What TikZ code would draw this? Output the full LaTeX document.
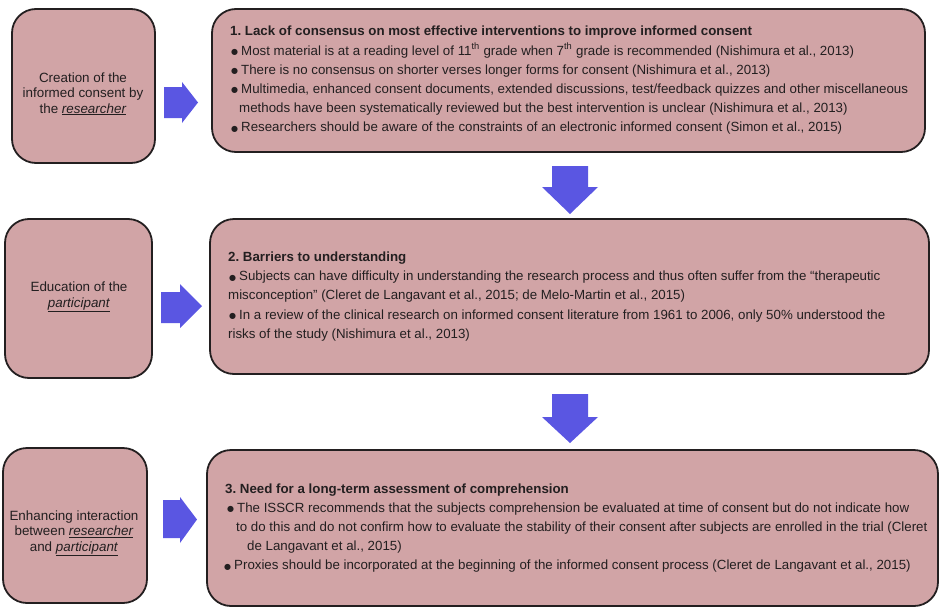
\documentclass[tikz,border=0pt]{standalone}
\usepackage{fontspec}
\setmainfont{Liberation Sans}
\newfontfamily\dejavu{DejaVu Sans}
\definecolor{boxfill}{RGB}{209,164,166}
\definecolor{boxline}{RGB}{35,31,32}
\definecolor{arrowblue}{RGB}{90,86,226}
\definecolor{txt}{RGB}{35,31,32}
\newcommand{\itemdot}{\makebox[11pt][l]{\hspace{1pt}{\dejavu\fontsize{8}{8}\selectfont\raisebox{0.6pt}{●}}}}
\newcommand{\ul}[1]{\underline{\textit{#1}}}
\frenchspacing
\begin{document}
\frenchspacing
\begin{tikzpicture}[x=1pt,y=-1pt,
  panel/.style={draw=boxline, line width=1.8pt, fill=boxfill, rounded corners=24pt, inner sep=0pt},
  body/.style={anchor=west, align=left, inner sep=0pt, text=txt, font=\fontsize{13.3}{19.2}\selectfont\frenchspacing},
  side/.style={align=center, inner sep=0pt, text=txt, font=\fontsize{13.4}{15.3}\selectfont},
  blockarrow/.style={fill=arrowblue, draw=none}
]
\useasboundingbox (0,0) rectangle (951,616);

% side boxes
\node[panel, minimum width=143pt, minimum height=154pt] (l1) at (83.5,86) {};
\node[panel, minimum width=147pt, minimum height=159pt] (l2) at (78.5,298.5) {};
\node[panel, minimum width=144pt, minimum height=155pt] (l3) at (75,525.5) {};

% main boxes
\node[panel, minimum width=713pt, minimum height=143pt] (m1) at (568.5,80.5) {};
\node[panel, minimum width=719pt, minimum height=155pt] (m2) at (569.5,296.5) {};
\node[panel, minimum width=731pt, minimum height=156pt] (m3) at (572.5,528) {};

% side texts
\node[side] (t1) at (83,94) {Creation of the\\informed consent by\\the \ul{researcher}};
\node[side] (t2) at (79,297) {Education of the\\\ul{participant}};
\node[side] (t3) at (74,533.5) {Enhancing interaction\\between \ul{researcher}\\and \ul{participant}};

% main texts
\node[body] (b1) at (230,80.5) {\textbf{1. Lack of consensus on most effective interventions to improve informed consent}\\
\itemdot Most material is at a reading level of 11\textsuperscript{th} grade when 7\textsuperscript{th} grade is recommended (Nishimura et al., 2013)\\
\itemdot There is no consensus on shorter verses longer forms for consent (Nishimura et al., 2013)\\
\itemdot Multimedia, enhanced consent documents, extended discussions, test/feedback quizzes and other miscellaneous\\
\hspace*{9pt}methods have been systematically reviewed but the best intervention is unclear (Nishimura et al., 2013)\\
\itemdot Researchers should be aware of the constraints of an electronic informed consent (Simon et al., 2015)};

\node[body] (b2) at (228,296.5) {\textbf{2. Barriers to understanding}\\
\itemdot Subjects can have difficulty in understanding the research process and thus often suffer from the “therapeutic\\
misconception” (Cleret de Langavant et al., 2015; de Melo-Martin et al., 2015)\\
\itemdot In a review of the clinical research on informed consent literature from 1961 to 2006, only 50\% understood the\\
risks of the study (Nishimura et al., 2013)};

\node[body] (b3) at (225,528) {\textbf{3. Need for a long-term assessment of comprehension}\\
\hspace*{1pt}\itemdot The ISSCR recommends that the subjects comprehension be evaluated at time of consent but do not indicate how\\
\hspace*{11pt}to do this and do not confirm how to evaluate the stability of their consent after subjects are enrolled in the trial (Cleret\\
\hspace*{22pt}de Langavant et al., 2015)\\
\hspace*{-2pt}\itemdot Proxies should be incorporated at the beginning of the informed consent process (Cleret de Langavant et al., 2015)};

% block arrows
\fill[blockarrow] (164,87) -- (182,87) -- (182,82) -- (198,102.5) -- (182,123) -- (182,118) -- (164,118) -- cycle;
\fill[blockarrow] (161,292) -- (180,292) -- (180,284) -- (202,306) -- (180,328) -- (180,323) -- (161,323) -- cycle;
\fill[blockarrow] (163,500) -- (180,500) -- (180,497) -- (197,519.5) -- (180,543) -- (180,538) -- (163,538) -- cycle;
\fill[blockarrow] (552,166) -- (588,166) -- (588,187) -- (598,187) -- (570,214) -- (542,187) -- (552,187) -- cycle;
\fill[blockarrow] (552,394) -- (588,394) -- (588,417) -- (598,417) -- (570,443) -- (542,417) -- (552,417) -- cycle;
\end{tikzpicture}
\end{document}
